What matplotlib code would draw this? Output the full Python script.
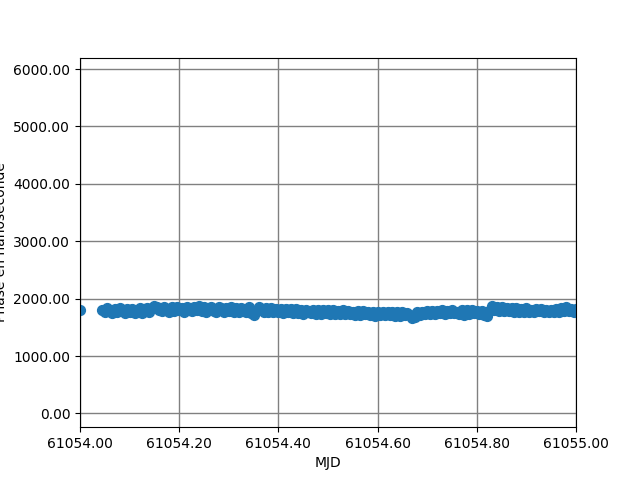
import numpy as np
import matplotlib
matplotlib.use("Agg")
import matplotlib.pyplot as plt
from matplotlib.ticker import FormatStrFormatter, MultipleLocator

# first sample, then a regular run after a short gap (MJD)
mjd_first = [61054.000]
mjd_run = np.arange(61054.045, 61055.0001, 0.005)
mjd = np.concatenate([mjd_first, mjd_run])

# phase in ns
phase_first = [1795]
phase_run = [
    1810, 1765, 1830, 1780, 1750, 1815, 1770, 1835, 1790, 1745, 1820, 1760,
    1825, 1755, 1790, 1840, 1750, 1815, 1830, 1760, 1845, 1880, 1850, 1800,
    1790, 1855, 1820, 1775, 1850, 1790, 1860, 1800, 1840, 1770, 1855, 1800,
    1780, 1860, 1800, 1865, 1790, 1850, 1775, 1845, 1860, 1790, 1775, 1850,
    1840, 1770, 1845, 1785, 1850, 1765, 1830, 1770, 1840, 1785, 1760, 1850,
    1750, 1710, 1790, 1860, 1820, 1770, 1830, 1765, 1835, 1760, 1820, 1775,
    1820, 1750, 1825, 1760, 1815, 1745, 1820, 1755, 1810, 1740, 1805, 1760,
    1745, 1810, 1740, 1800, 1735, 1805, 1745, 1795, 1730, 1800, 1740, 1790,
    1730, 1795, 1725, 1790, 1735, 1770, 1720, 1785, 1715, 1780, 1725, 1765,
    1720, 1775, 1705, 1770, 1710, 1760, 1715, 1765, 1720, 1760, 1700, 1765,
    1705, 1775, 1710, 1745, 1720, 1670, 1680, 1760, 1720, 1770, 1730, 1780,
    1725, 1790, 1730, 1785, 1750, 1800, 1735, 1790, 1755, 1800, 1745, 1775,
    1740, 1805, 1720, 1795, 1735, 1805, 1745, 1780, 1740, 1790, 1715, 1700,
    1790, 1870, 1810, 1860, 1790, 1850, 1785, 1835, 1790, 1830, 1760, 1835,
    1765, 1825, 1760, 1830, 1765, 1810, 1770, 1825, 1780, 1815, 1760, 1805,
    1765, 1810, 1770, 1815, 1760, 1830, 1790, 1855, 1785, 1820, 1775, 1815,
]
phase = np.concatenate([phase_first, phase_run[:len(mjd_run)]])

fig, ax = plt.subplots(figsize=(6.4, 4.8), dpi=100)
ax.set_axisbelow(True)
ax.scatter(mjd, phase, s=50, color='#1f77b4')

ax.set_xlim(61054.0, 61055.0)
ax.set_ylim(-240, 6200)
ax.xaxis.set_major_locator(MultipleLocator(0.2))
ax.yaxis.set_major_locator(MultipleLocator(1000))
ax.xaxis.set_major_formatter(FormatStrFormatter('%.2f'))
ax.yaxis.set_major_formatter(FormatStrFormatter('%.2f'))
ax.grid(True, color='gray', linewidth=1)
ax.set_xlabel("MJD")
ax.set_ylabel("Phase en nanoseconde")

fig.savefig("out.png", dpi=100)
